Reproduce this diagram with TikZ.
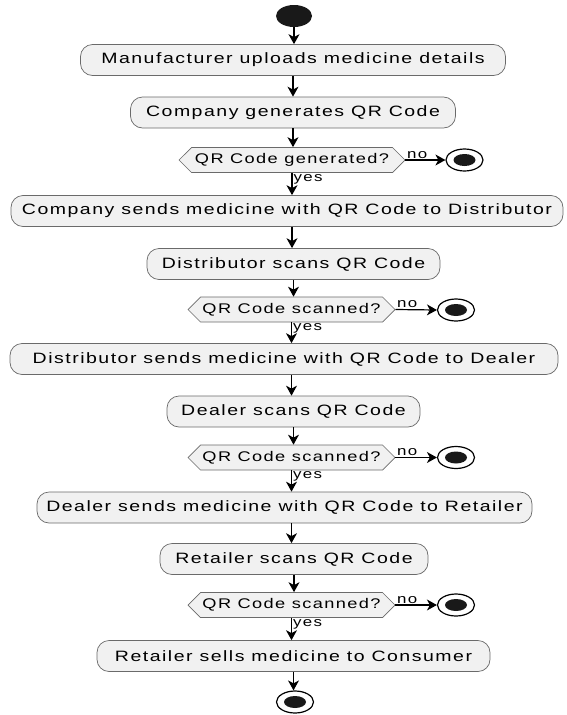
\documentclass[tikz,border=0pt]{standalone}
\usepackage{fontspec}
\usepackage{xcolor}
\usepackage{tikz}
\usetikzlibrary{arrows.meta, positioning, shapes.geometric, shapes.symbols, calc}
\newfontfamily\flowfont[FakeStretch=1.3, LetterSpace=10]{Liberation Sans}
\definecolor{actfill}{HTML}{F1F1F1}
\definecolor{actline}{HTML}{6A6A6A}
\tikzset{
  actbox/.style  = {rectangle, draw=actline, fill=actfill, rounded corners=12pt,
                    line width=0.7pt, font=\flowfont\fontsize{15}{18}\selectfont,
                    inner sep=0pt, minimum height=31pt},
  decbox/.style  = {signal, signal to=west and east, signal pointer angle=90,
                    draw=actline, fill=actfill, line width=0.7pt,
                    font=\flowfont\fontsize{14}{16}\selectfont,
                    inner sep=0pt, minimum height=25pt},
  startdot/.style= {ellipse, fill=black!90, inner sep=0pt,
                    minimum width=36pt, minimum height=22pt},
  stopdot/.style = {ellipse, draw=black, fill=white, line width=1.2pt, inner sep=0pt,
                    minimum width=37pt, minimum height=22pt,
                    path picture={\fill[black!90] (path picture bounding box.center)
                                  ellipse (11pt and 6pt);}},
  arr/.style     = {-{Stealth[length=10pt, width=11pt, inset=3pt]}, line width=1.2pt},
  lbl/.style     = {font=\flowfont\fontsize{13}{15}\selectfont, inner sep=1pt},
}
\begin{document}
\begin{tikzpicture}[x=1pt, y=-1pt]
  \useasboundingbox (0,0) rectangle (566,715);

  % activities and checks, top to bottom
  \node[startdot] (start) at (294,16) {};
  \node[actbox, minimum width=425pt] (upload)  at (293,60)    {Manufacturer uploads medicine details};
  \node[actbox, minimum width=325pt] (genqr)   at (293,112.5) {Company generates QR Code};
  \node[decbox, minimum width=226pt] (chkgen)  at (292,160)   {QR Code generated?};
  \node[stopdot] (stopgen) at (464.5,160) {};
  \node[actbox, minimum width=552pt] (todist)  at (287,211)   {Company sends medicine with QR Code to Distributor};
  \node[actbox, minimum width=293pt] (distscan) at (293.5,264) {Distributor scans QR Code};
  \node[decbox, minimum width=207pt] (chkdist) at (291.5,309.5) {QR Code scanned?};
  \node[stopdot] (stopdist) at (456,310) {};
  \node[actbox, minimum width=548pt] (todeal)  at (284,359)   {Distributor sends medicine with QR Code to Dealer};
  \node[actbox, minimum width=253pt] (dealscan) at (293.5,411.5) {Dealer scans QR Code};
  \node[decbox, minimum width=207pt] (chkdeal) at (291.5,457.5) {QR Code scanned?};
  \node[stopdot] (stopdeal) at (456,457.5) {};
  \node[actbox, minimum width=495pt] (toret)   at (284.5,507.5) {Dealer sends medicine with QR Code to Retailer};
  \node[actbox, minimum width=268pt] (retscan) at (294,559)   {Retailer scans QR Code};
  \node[decbox, minimum width=207pt] (chkret)  at (291.5,605) {QR Code scanned?};
  \node[stopdot] (stopret) at (456,605) {};
  \node[actbox, minimum width=393pt] (sell)    at (293.5,656) {Retailer sells medicine to Consumer};
  \node[stopdot] (finish) at (295,702) {};

  % flow
  \draw[arr] (start) -- (start |- upload.north);
  \draw[arr] (upload) -- (genqr);
  \draw[arr] (genqr) -- (genqr |- chkgen.north);
  \draw[arr] (chkgen.east) -- (stopgen.west) node[lbl, pos=0, anchor=south west] {no};
  \draw[arr] (chkgen.south) -- (chkgen.south |- todist.north) node[lbl, pos=0, anchor=north west] {yes};
  \draw[arr] (chkgen.south |- todist.south) -- (chkgen.south |- distscan.north);
  \draw[arr] (distscan) -- (distscan |- chkdist.north);
  \draw[arr] (chkdist.east) -- (stopdist.west) node[lbl, pos=0, anchor=south west] {no};
  \draw[arr] (chkdist.south) -- (chkdist.south |- todeal.north) node[lbl, pos=0, anchor=north west] {yes};
  \draw[arr] (chkdist.south |- todeal.south) -- (chkdist.south |- dealscan.north);
  \draw[arr] (dealscan) -- (dealscan |- chkdeal.north);
  \draw[arr] (chkdeal.east) -- (stopdeal.west) node[lbl, pos=0, anchor=south west] {no};
  \draw[arr] (chkdeal.south) -- (chkdeal.south |- toret.north) node[lbl, pos=0, anchor=north west] {yes};
  \draw[arr] (chkdeal.south |- toret.south) -- (chkdeal.south |- retscan.north);
  \draw[arr] (retscan) -- (retscan |- chkret.north);
  \draw[arr] (chkret.east) -- (stopret.west) node[lbl, pos=0, anchor=south west] {no};
  \draw[arr] (chkret.south) -- (chkret.south |- sell.north) node[lbl, pos=0, anchor=north west] {yes};
  \draw[arr] (sell) -- (sell |- finish.north);
\end{tikzpicture}
\end{document}
